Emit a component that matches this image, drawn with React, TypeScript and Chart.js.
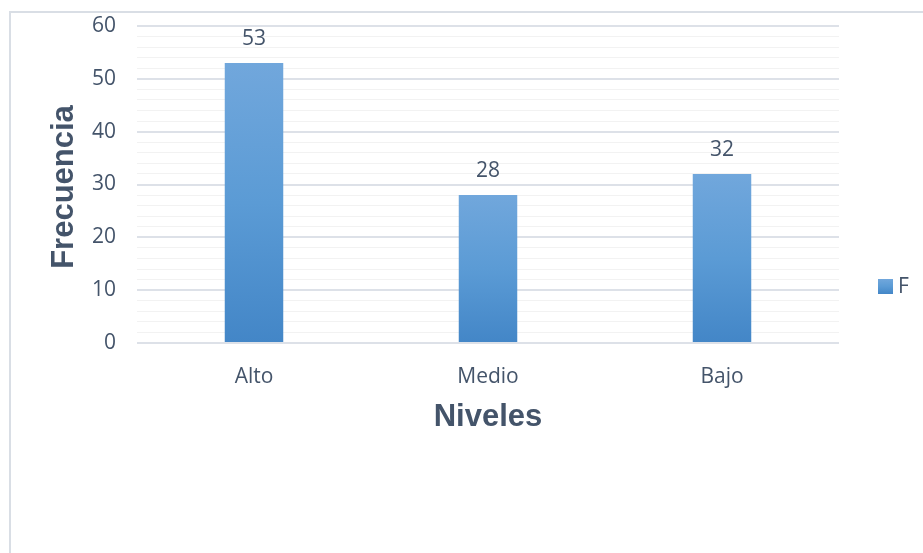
import React, { useEffect, useRef } from "react";
import { Chart, registerables } from "chart.js";

Chart.register(...registerables);

const categories = ["Alto", "Medio", "Bajo"];
const values = [53, 28, 32];
const seriesName = "F";
const yTicks = [0, 10, 20, 30, 40, 50, 60];
const xTitle = "Niveles";
const yTitle = "Frecuencia";

const TEXT = "#44546a";
const FONT = "'Open Sans'";

function barGradient(c: CanvasRenderingContext2D, top: number, bottom: number) {
  const g = c.createLinearGradient(0, top, 0, bottom);
  g.addColorStop(0, "#71a7dc");
  g.addColorStop(0.5, "#5b9bd5");
  g.addColorStop(1, "#4386c7");
  return g;
}

const decorPlugin = {
  id: "decor",
  beforeDraw(chart: any) {
    const c = chart.ctx;
    c.save();
    c.strokeStyle = "#d9dee5";
    c.lineWidth = 2;
    c.strokeRect(10, 12, 1000, 700);
    c.restore();
  },
  afterDatasetsDraw(chart: any) {
    const c = chart.ctx;
    const meta = chart.getDatasetMeta(0);
    c.save();
    c.fillStyle = TEXT;
    c.font = `21px ${FONT}`;
    c.textAlign = "center";
    c.textBaseline = "alphabetic";
    meta.data.forEach((el: any, i: number) => {
      c.fillText(String(values[i]), el.x, el.y - 18);
    });
    // axis titles
    const area = chart.chartArea;
    c.font = `bold 31px "Liberation Sans", Arial, sans-serif`;
    c.textBaseline = "middle";
    c.fillText(xTitle, (area.left + area.right) / 2, 417);
    c.save();
    c.translate(64, 187);
    c.rotate(-Math.PI / 2);
    c.fillText(yTitle, 0, 0);
    c.restore();
    // legend
    c.fillStyle = barGradient(c, 279, 294);
    c.fillRect(878, 279, 15, 15);
    c.fillStyle = TEXT;
    c.font = `21px ${FONT}`;
    c.textAlign = "left";
    c.textBaseline = "middle";
    c.fillText(seriesName, 898, 287);
    c.restore();
  },
};

export default function App() {
  const ref = useRef<HTMLCanvasElement | null>(null);
  useEffect(() => {
    if (!ref.current) return;
    const chart = new Chart(ref.current, {
      type: "bar",
      data: {
        labels: categories,
        datasets: [
          {
            label: seriesName,
            data: values,
            backgroundColor: (ctx: any) => {
              const ch = ctx.chart;
              const ys = ch.scales && ch.scales.y;
              if (!ys || !ch.chartArea || ctx.raw == null) return "#5b9bd5";
              const top = ys.getPixelForValue(ctx.raw);
              const bottom = ys.getPixelForValue(0);
              if (!Number.isFinite(top) || !Number.isFinite(bottom) || top === bottom) return "#5b9bd5";
              return barGradient(ch.ctx, top, bottom);
            },
            borderWidth: 0,
            barPercentage: 0.25,
            categoryPercentage: 1,
          },
        ],
      },
      options: {
        responsive: false,
        animation: false,
        layout: { padding: { top: 26, right: 84, left: 0, bottom: 0 } },
        plugins: { legend: { display: false }, tooltip: { enabled: false } },
        scales: {
          x: {
            grid: { display: false },
            border: { display: false },
            ticks: { color: TEXT, font: { family: "Open Sans", size: 21 }, padding: 13 },
            afterFit: (s: any) => {
              s.height = 210;
              s.paddingLeft = 0;
              s.paddingRight = 0;
            },
          },
          y: {
            min: 0,
            max: 60,
            border: { display: false },
            grid: {
              drawTicks: false,
              color: (ctx: any) =>
                ctx.tick && yTicks.includes(ctx.tick.value) ? "#dde1e8" : "#f2f2f2",
              lineWidth: (ctx: any) =>
                ctx.tick && yTicks.includes(ctx.tick.value) ? 2 : 1,
            },
            ticks: {
              stepSize: 2,
              autoSkip: false,
              color: TEXT,
              font: { family: "Open Sans", size: 21 },
              padding: 21,
              callback: (v: any) => (yTicks.includes(Number(v)) ? String(v) : ""),
            },
            afterFit: (s: any) => {
              s.width = 137;
              s.paddingTop = 0;
              s.paddingBottom = 0;
            },
          },
        },
      },
      plugins: [decorPlugin],
    });
    return () => chart.destroy();
  }, []);
  return (
    <div style={{ position: "fixed", left: 0, top: 0, width: 923, height: 553, background: "#fff" }}>
      <canvas ref={ref} width={923} height={553} style={{ width: 923, height: 553, display: "block" }} />
    </div>
  );
}
